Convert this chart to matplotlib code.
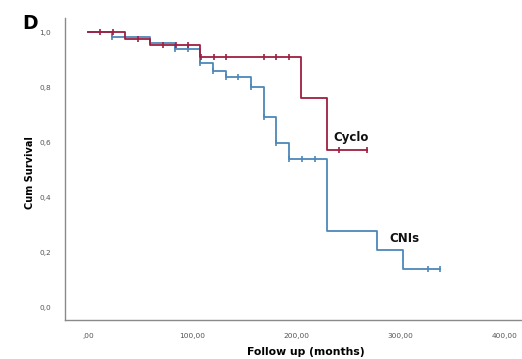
import matplotlib
matplotlib.use("Agg")
import matplotlib.pyplot as plt

# Kaplan-Meier steps (months, cumulative survival)
cyclo_t = [0, 36, 60, 108, 205, 230, 268]
cyclo_s = [1.0, 0.975, 0.953, 0.91, 0.762, 0.571, 0.571]
cyclo_cens = [12, 24, 48, 72, 85, 96, 109, 121, 133, 169, 181, 193, 241, 268]

cni_t = [0, 23, 60, 84, 108, 120, 133, 157, 169, 181, 193, 230, 278, 303, 338]
cni_s = [1.0, 0.982, 0.96, 0.94, 0.886, 0.858, 0.837, 0.80, 0.69, 0.595,
         0.537, 0.277, 0.207, 0.137, 0.137]
cni_cens = [23, 84, 96, 108, 120, 133, 144, 157, 169, 181, 193, 206, 218, 327, 338]

x_ticks = [0, 100, 200, 300, 400]
x_labels = [",00", "100,00", "200,00", "300,00", "400,00"]
y_ticks = [0.0, 0.2, 0.4, 0.6, 0.8, 1.0]
y_labels = ["0,0", "0,2", "0,4", "0,6", "0,8", "1,0"]

RED = "#9e1f40"
BLUE = "#4d88ba"


def surv_at(t, times, surv):
    # value of the step function just after time t
    v = surv[0]
    for tt, ss in zip(times, surv):
        if tt <= t:
            v = ss
    return v


fig = plt.figure(figsize=(5.22, 3.59), dpi=100)
ax = fig.add_axes([0.1245, 0.1086, 0.8755, 0.841])

for times, surv, cens, col in [(cni_t, cni_s, cni_cens, BLUE),
                               (cyclo_t, cyclo_s, cyclo_cens, RED)]:
    ax.step(times, surv, where="post", color=col, lw=1.3, zorder=3)
    ax.plot(cens, [surv_at(c, times, surv) for c in cens], ls="none",
            marker="|", ms=5, mew=1.2, color=col, zorder=4)

ax.text(236, 0.605, "Cyclo", fontsize=8.5, fontweight="bold", color="#111111")
ax.text(290, 0.235, "CNIs", fontsize=8.5, fontweight="bold", color="#111111")

ax.set_xlim(-22, 417)
ax.set_ylim(-0.047, 1.051)
ax.set_xticks(x_ticks)
ax.set_xticklabels(x_labels)
ax.set_yticks(y_ticks)
ax.set_yticklabels(y_labels)
ax.tick_params(length=0, labelsize=5.3, labelcolor="#555555")
ax.tick_params(axis="x", pad=9)
ax.tick_params(axis="y", pad=10)

for side in ["top", "right"]:
    ax.spines[side].set_visible(False)
for side in ["left", "bottom"]:
    ax.spines[side].set_color("#8a8a8a")
    ax.spines[side].set_linewidth(1.0)

fig.text(0.0575, 0.518, "Cum Survival", rotation=90, fontsize=7, fontweight="bold",
         ha="center", va="center")
fig.text(0.586, 0.02, "Follow up (months)", fontsize=7.8, fontweight="bold",
         ha="center", va="center")
fig.text(0.057, 0.935, "D", fontsize=13.5, fontweight="bold", ha="center", va="center")

fig.savefig("out.png", dpi=100)
